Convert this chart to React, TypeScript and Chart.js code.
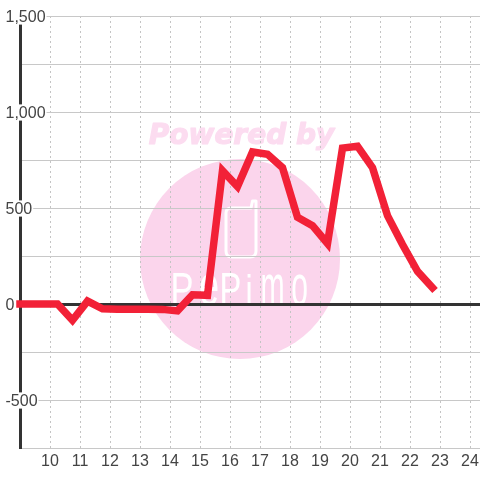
import React, { useEffect, useRef } from "react";
import { Chart, registerables } from "chart.js";

Chart.register(...registerables);

const hours = [9, 9.25, 9.75, 10.25, 10.75, 11.25, 11.75, 12.25, 12.75, 13.25, 13.75, 14.25, 14.75, 15.25, 15.75, 16.25, 16.75, 17.25, 17.75, 18.25, 18.75, 19.25, 19.75, 20.25, 20.75, 21.25, 21.75, 22.25, 22.75];
const values = [0, 0, 0, 0, -85, 15, -25, -27, -27, -27, -28, -36, 48, 45, 695, 612, 792, 780, 710, 452, 408, 315, 812, 822, 710, 460, 310, 170, 85];

const logoLetters: [string, number, number, number, number][] = [
  ["P", 173, 273, 19, 32],
  ["e", 200, 273, 18, 32],
  ["P", 222, 273, 18, 32],
  ["i", 247, 273, 4, 32],
  ["m", 262, 273, 21, 32],
  ["o", 292, 273, 15, 32],
];

const watermark = {
  id: "watermark",
  beforeDraw(chart: Chart) {
    const c = chart.ctx;
    c.save();
    c.fillStyle = "#ffffff";
    c.fillRect(0, 0, chart.width, chart.height);
    c.fillStyle = "#fbd5ec";
    c.beginPath();
    c.arc(240, 259, 100, 0, Math.PI * 2);
    c.fill();
    c.fillStyle = "#fcdcf0";
    c.strokeStyle = "#fcdcf0";
    c.lineWidth = 1.2;
    c.lineJoin = "round";
    c.font = 'italic bold 28px "DejaVu Sans"';
    c.textAlign = "center";
    c.textBaseline = "alphabetic";
    c.fillText("Powered by", 241.5, 144);
    c.strokeText("Powered by", 241.5, 144);
    c.strokeStyle = "#ffffff";
    c.lineWidth = 3;
    c.lineCap = "round";
    c.lineJoin = "round";
    c.beginPath();
    c.moveTo(251, 208);
    c.lineTo(231, 208);
    c.quadraticCurveTo(226, 208, 226, 213);
    c.lineTo(226, 251);
    c.quadraticCurveTo(226, 257, 232, 257);
    c.lineTo(250, 257);
    c.quadraticCurveTo(256, 257, 256, 251);
    c.lineTo(256, 201);
    c.lineTo(252.5, 201);
    c.lineTo(251, 208);
    c.stroke();
    c.fillStyle = "#ffffff";
    c.textAlign = "left";
    c.font = '40px "Liberation Sans"';
    for (const [ch, x, y, w, h] of logoLetters) {
      const m = c.measureText(ch);
      const bw = m.actualBoundingBoxLeft + m.actualBoundingBoxRight;
      const bh = m.actualBoundingBoxAscent + m.actualBoundingBoxDescent;
      c.save();
      c.translate(x, y);
      c.scale(w / bw, h / bh);
      c.fillText(ch, m.actualBoundingBoxLeft, m.actualBoundingBoxAscent);
      c.restore();
    }
    c.restore();
  },
};

export default function App() {
  const ref = useRef<HTMLCanvasElement>(null);
  useEffect(() => {
    const chart = new Chart(ref.current!, {
      type: "line",
      data: {
        datasets: [
          {
            data: hours.map((h, i) => ({ x: h, y: values[i] })),
            borderColor: "#f22137",
            borderWidth: 7.5,
            pointRadius: 0,
            tension: 0,
            borderCapStyle: "square",
            borderJoinStyle: "miter",
            clip: false,
          },
        ],
      },
      options: {
        responsive: false,
        animation: false,
        layout: { autoPadding: false, padding: { top: 16, left: 0, right: 0, bottom: 0 } },
        plugins: { legend: { display: false }, tooltip: { enabled: false }, title: { display: false } },
        scales: {
          x: {
            type: "linear",
            min: 9,
            max: 24.3333,
            afterFit: (s: any) => {
              s.height = 32;
              s.paddingLeft = 0;
              s.paddingRight = 0;
            },
            border: { display: false, dash: [2, 3] },
            grid: { color: "#c4c4c4", lineWidth: 1, drawTicks: false },
            ticks: {
              stepSize: 1,
              includeBounds: false,
              autoSkip: false,
              maxRotation: 0,
              padding: 4,
              color: "#444444",
              font: { family: '"Liberation Sans"', size: 16 },
              callback: (v: any) => (v === 9 ? "" : String(v)),
            },
          },
          y: {
            type: "linear",
            min: -750,
            max: 1500,
            afterFit: (s: any) => {
              s.width = 20;
              s.paddingTop = 0;
              s.paddingBottom = 0;
            },
            border: { display: true, color: "#333333", width: 3 },
            grid: {
              color: (c: any) => (c.tick.value === 0 ? "#333333" : "#c8c8c8"),
              lineWidth: (c: any) => (c.tick.value === 0 ? 3 : 1),
              drawTicks: false,
            },
            ticks: {
              stepSize: 250,
              autoSkip: false,
              mirror: true,
              padding: -14.5,
              labelOffset: 1.5,
              color: "#444444",
              font: { family: '"Liberation Sans"', size: 16 },
              showLabelBackdrop: true,
              backdropColor: (c: any) => (c.tick && c.tick.value % 500 === 0 ? "#ffffff" : "rgba(0,0,0,0)"),
              backdropPadding: { left: 1, right: 1, top: -0.5, bottom: -2.5 },
              callback: (v: any) => (v % 500 === 0 ? Number(v).toLocaleString("en-US") : ""),
            },
          },
        },
      },
      plugins: [watermark],
    } as any);
    return () => chart.destroy();
  }, []);
  return (
    <div style={{ position: "absolute", left: 0, top: 0, width: 480, height: 480 }}>
      <canvas ref={ref} width={480} height={480} style={{ display: "block" }} />
    </div>
  );
}
